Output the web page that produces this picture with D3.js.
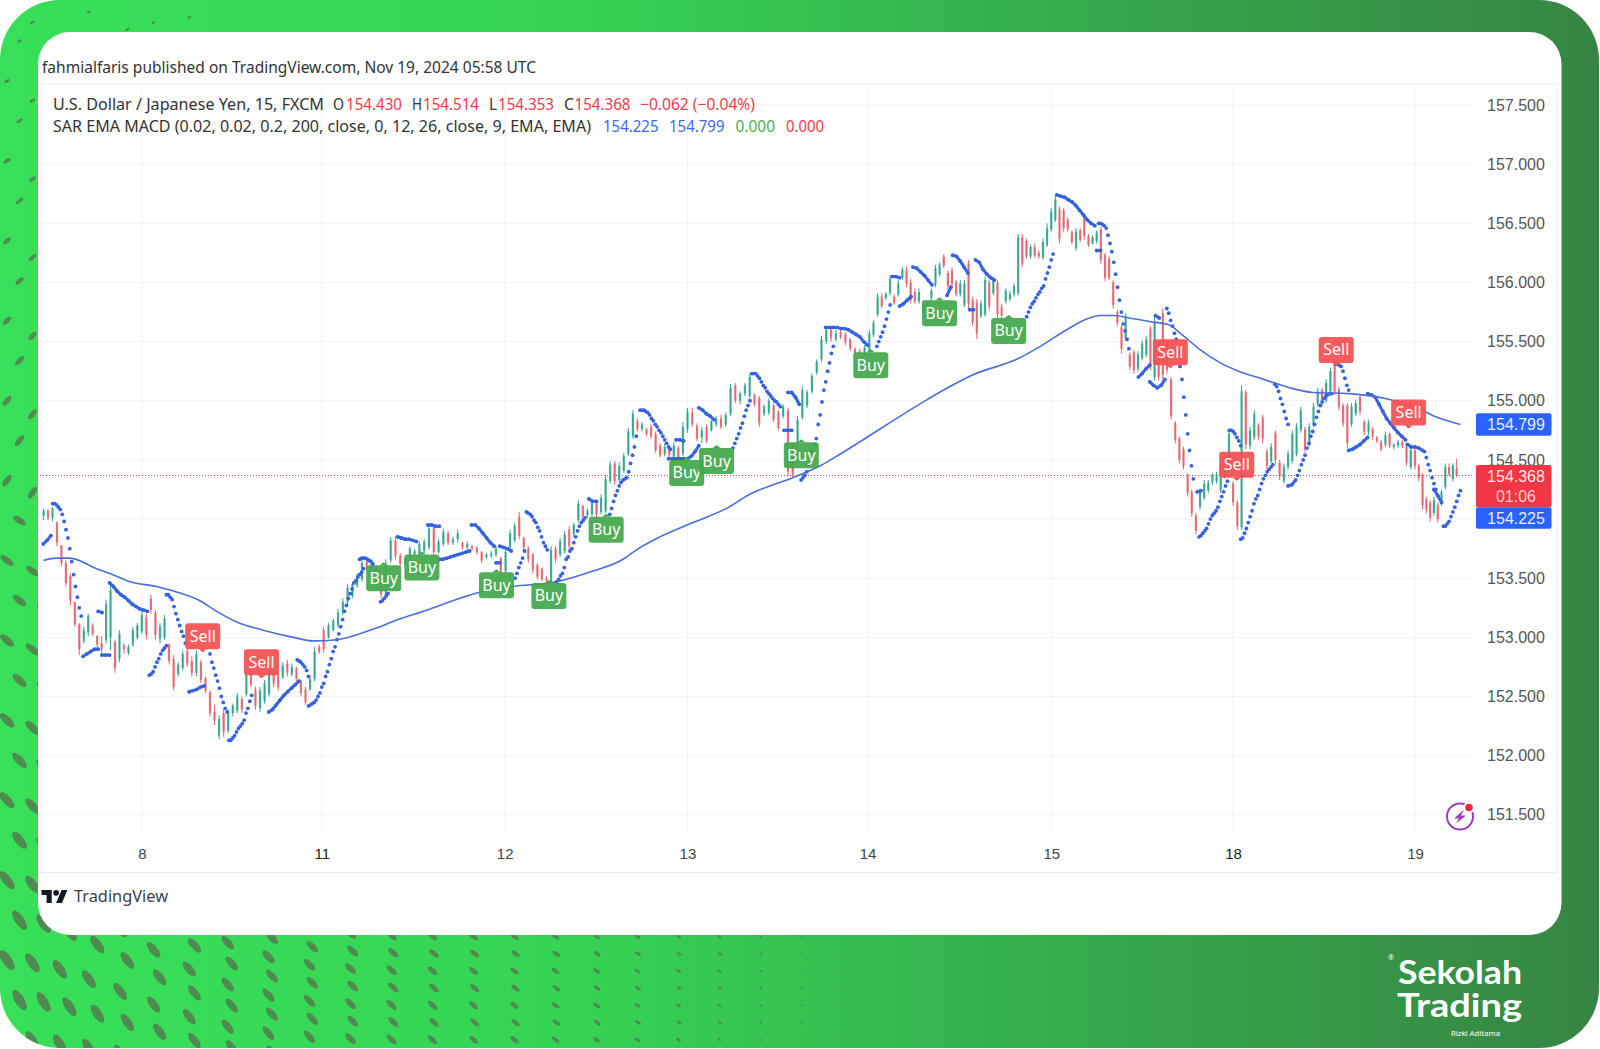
<!DOCTYPE html>
<html lang="en">

<head>
    <meta charset="utf-8">
    <title>USD/JPY 15m</title>
    <script src="https://d3js.org/d3.v7.min.js"></script>
    <style>
        body { margin: 0; background: #fff; }
        svg { display: block; }
        text { font-family: "Noto Sans", sans-serif; }
        .axis text { font-family: "Liberation Sans", sans-serif; }
        .axis .domain { display: none; }
    </style>
</head>

<body>
    <div id="chart"></div>
    <script>
        // day positions: 8 = 0, 11 = 1, 12 = 2 ... trading days only
        const dayTicks = [0, 0.989, 1.995, 3, 3.99, 5, 6, 7];
        const dayLabels = ["8", "11", "12", "13", "14", "15", "18", "19"];
        const priceTicks = [157.5, 157, 156.5, 156, 155.5, 155, 154.5, 154, 153.5, 153, 152.5, 152, 151.5];

        // candles, each row open, high, low, close
        const before8 = [
            [154.03,154.09,153.99,154.07],[154.07,154.08,153.99,154.01],[154.01,154.10,153.98,154.09],[153.97,153.98,153.77,153.80],
            [153.78,153.78,153.60,153.63],[153.63,153.65,153.43,153.46],[153.52,153.54,153.27,153.31],[153.30,153.30,153.09,153.11],
            [153.11,153.12,152.85,152.90],[152.97,153.09,152.95,153.06],[153.04,153.20,153.01,153.18],[153.10,153.12,153.01,153.03],
            [153.01,153.02,152.91,152.94],[152.95,153.01,152.86,152.90],[152.98,153.32,152.95,153.28],[153.00,153.47,152.89,153.40],
            [152.96,152.98,152.70,152.74],[152.82,153.06,152.79,153.03],[152.93,152.95,152.86,152.90],[152.87,152.94,152.85,152.92],
            [152.94,153.09,152.92,153.06],[153.00,153.12,152.98,153.10]
        ];
        const day8 = [
            [153.05,153.22,153.03,153.19],[153.17,153.20,152.98,153.02],[153.33,153.36,153.20,153.23],[153.21,153.23,152.98,153.02],
            [152.99,153.12,152.95,153.09],[153.00,153.19,152.98,153.16],[152.94,152.95,152.77,152.80],[152.82,152.85,152.55,152.58],
            [152.69,152.79,152.67,152.77],[152.74,152.89,152.72,152.86],[152.88,152.91,152.75,152.78],[152.80,152.84,152.67,152.70],
            [152.70,152.89,152.67,152.86],[152.79,152.81,152.61,152.64],[152.65,152.67,152.53,152.55],[152.54,152.55,152.33,152.36],
            [152.37,152.43,152.26,152.30],[152.17,152.34,152.14,152.31],[152.36,152.39,152.16,152.20],[152.21,152.39,152.19,152.37],
            [152.36,152.44,152.33,152.42],[152.38,152.53,152.36,152.50],[152.48,152.50,152.36,152.39],[152.52,152.72,152.50,152.70],
            [152.72,152.75,152.58,152.60],[152.56,152.58,152.39,152.42],[152.40,152.58,152.37,152.55],[152.46,152.64,152.44,152.61],
            [152.52,152.75,152.50,152.72],[152.72,152.75,152.58,152.61],[152.69,152.71,152.55,152.58],[152.66,152.79,152.65,152.76],
            [152.78,152.81,152.67,152.70],[152.69,152.78,152.67,152.75],[152.74,152.75,152.63,152.65],[152.63,152.64,152.50,152.53],
            [152.56,152.58,152.43,152.45],[152.56,152.67,152.55,152.65],[152.65,152.92,152.63,152.88],[152.92,152.94,152.86,152.88]
        ];
        const day11 = [
            [153.06,153.09,152.87,152.90],[153.00,153.12,152.99,153.10],[153.06,153.16,153.05,153.14],[153.10,153.24,153.08,153.21],
            [153.21,153.33,153.19,153.30],[153.30,153.45,153.28,153.42],[153.35,153.47,153.33,153.45],[153.44,153.54,153.42,153.52],
            [153.49,153.66,153.47,153.63],[153.64,153.67,153.56,153.58],[153.54,153.66,153.52,153.62],[153.58,153.60,153.40,153.44],
            [153.50,153.52,153.33,153.36],[153.35,153.66,153.33,153.62],[153.65,153.85,153.63,153.82],[153.82,153.85,153.66,153.69],
            [153.69,153.71,153.60,153.62],[153.62,153.68,153.60,153.66],[153.67,153.77,153.66,153.75],[153.70,153.75,153.68,153.73],
            [153.70,153.81,153.68,153.79],[153.73,153.83,153.71,153.81],[153.76,153.95,153.74,153.92],[153.92,153.94,153.68,153.72],
            [153.72,153.83,153.71,153.81],[153.79,153.92,153.77,153.89],[153.88,153.90,153.78,153.80],[153.80,153.85,153.78,153.83],
            [153.83,153.91,153.80,153.88],[153.80,153.81,153.74,153.76],[153.76,153.81,153.74,153.79],[153.77,153.78,153.73,153.75],
            [153.76,153.77,153.70,153.72],[153.72,153.73,153.63,153.65],[153.68,153.71,153.66,153.70],[153.69,153.73,153.67,153.71],
            [153.70,153.77,153.68,153.75],[153.67,153.68,153.49,153.52]
        ];
        const day12 = [
            [153.56,153.74,153.54,153.72],[153.76,153.91,153.74,153.88],[153.82,153.97,153.80,153.94],[154.02,154.06,153.83,153.86],
            [153.84,153.85,153.74,153.76],[153.75,153.77,153.63,153.66],[153.70,153.71,153.54,153.57],[153.61,153.63,153.49,153.51],
            [153.58,153.59,153.47,153.49],[153.50,153.52,153.46,153.48],[153.46,153.77,153.43,153.74],[153.75,153.77,153.63,153.66],
            [153.70,153.84,153.68,153.81],[153.73,153.90,153.71,153.87],[153.91,153.94,153.74,153.77],[153.87,153.97,153.85,153.95],
            [153.99,154.16,153.97,154.13],[154.11,154.12,153.99,154.02],[154.03,154.09,154.01,154.07],[154.04,154.16,154.02,154.14],
            [154.15,154.16,154.01,154.04],[154.06,154.21,154.04,154.18],[154.07,154.37,154.05,154.34],[154.32,154.49,154.30,154.46],
            [154.47,154.49,154.29,154.32],[154.33,154.48,154.31,154.45],[154.41,154.56,154.39,154.53],[154.55,154.77,154.53,154.74],
            [154.70,154.92,154.68,154.89],[154.83,154.85,154.74,154.76],[154.76,154.82,154.74,154.80],[154.76,154.77,154.70,154.72],
            [154.78,154.80,154.68,154.70],[154.72,154.74,154.56,154.58],[154.62,154.64,154.52,154.54],[154.55,154.64,154.53,154.61],
            [154.62,154.63,154.51,154.54],[154.53,154.65,154.50,154.62],[154.60,154.62,154.50,154.52],[154.55,154.82,154.53,154.78]
        ];
        const day13 = [
            [154.76,154.94,154.73,154.91],[154.90,154.94,154.78,154.80],[154.79,154.81,154.66,154.68],[154.69,154.78,154.64,154.75],
            [154.78,154.80,154.64,154.66],[154.75,154.84,154.74,154.82],[154.80,154.87,154.78,154.85],[154.85,154.88,154.76,154.78],
            [154.80,154.90,154.78,154.88],[154.89,155.14,154.87,155.11],[155.13,155.15,154.98,155.00],[155.00,155.08,154.97,155.06],
            [155.06,155.15,155.04,155.13],[155.04,155.23,155.02,155.20],[155.05,155.06,154.95,154.97],[155.02,155.04,154.78,154.81],
            [154.89,154.97,154.87,154.95],[154.90,155.02,154.88,155.00],[154.96,154.98,154.82,154.84],[154.90,154.92,154.75,154.77],
            [154.87,154.97,154.85,154.95],[154.92,154.94,154.36,154.40],[154.62,154.64,154.35,154.38],[154.63,154.87,154.61,154.84],
            [154.86,155.12,154.84,155.09],[154.96,155.09,154.94,155.07],[155.08,155.23,155.06,155.21],[155.24,155.35,155.22,155.33],
            [155.35,155.55,155.33,155.52],[155.50,155.62,155.48,155.60],[155.60,155.62,155.50,155.53],[155.52,155.60,155.50,155.57],
            [155.58,155.60,155.52,155.54],[155.56,155.58,155.47,155.49],[155.52,155.53,155.42,155.44],[155.44,155.45,155.37,155.39],
            [155.42,155.44,155.37,155.39],[155.38,155.47,155.37,155.45]
        ];
        const day14 = [
            [155.42,155.60,155.40,155.57],[155.56,155.68,155.54,155.66],[155.73,155.91,155.71,155.88],[155.88,155.91,155.78,155.80],
            [155.87,155.92,155.85,155.90],[155.91,156.06,155.89,156.03],[155.88,155.90,155.81,155.83],[155.90,156.02,155.88,155.99],
            [156.04,156.13,156.02,156.11],[156.10,156.13,155.96,155.99],[156.00,156.03,155.82,155.85],[155.92,155.95,155.82,155.84],
            [155.84,155.95,155.82,155.92],[155.82,155.85,155.72,155.75],[155.76,155.85,155.72,155.82],[155.87,155.95,155.85,155.93],
            [155.98,156.15,155.96,156.12],[156.07,156.17,156.05,156.15],[156.22,156.24,156.12,156.14],[156.08,156.10,155.94,155.97],
            [156.10,156.13,155.96,155.99],[156.00,156.02,155.88,155.90],[155.90,156.02,155.88,155.99],[155.81,156.02,155.79,155.99],
            [156.16,156.19,155.78,155.82],[155.85,155.88,155.63,155.66],[155.83,155.86,155.52,155.57],[155.72,155.85,155.70,155.82],
            [155.73,156.05,155.71,156.02],[156.00,156.02,155.77,155.80],[155.91,156.05,155.89,156.02],[156.00,156.02,155.70,155.73],
            [155.79,155.82,155.70,155.72],[155.84,155.95,155.82,155.93],[155.86,155.93,155.84,155.90],[155.90,155.99,155.88,155.97],
            [155.91,156.41,155.89,156.38],[156.38,156.41,156.13,156.16],[156.35,156.37,156.20,156.22],[156.22,156.32,156.20,156.30],
            [156.30,156.33,156.21,156.23],[156.25,156.27,156.20,156.22],[156.21,156.37,156.19,156.34],[156.32,156.50,156.30,156.46]
        ];
        const day15 = [
            [156.45,156.63,156.43,156.60],[156.53,156.74,156.51,156.70],[156.62,156.64,156.33,156.37],[156.61,156.63,156.43,156.46],
            [156.53,156.55,156.43,156.45],[156.42,156.44,156.32,156.34],[156.29,156.46,156.27,156.43],[156.44,156.46,156.34,156.36],
            [156.55,156.57,156.36,156.39],[156.39,156.41,156.30,156.32],[156.33,156.40,156.32,156.38],[156.35,156.44,156.33,156.42],
            [156.45,156.47,156.16,156.19],[156.23,156.25,156.01,156.04],[156.20,156.22,156.02,156.04],[156.00,156.02,155.78,155.81],
            [155.75,155.77,155.63,155.66],[155.62,155.64,155.40,155.44],[155.53,155.74,155.51,155.71],[155.39,155.41,155.26,155.29],
            [155.41,155.43,155.23,155.26],[155.27,155.42,155.25,155.39],[155.36,155.51,155.34,155.48],[155.39,155.55,155.37,155.52],
            [155.61,155.63,155.26,155.30],[155.20,155.72,155.17,155.66],[155.48,155.50,155.17,155.20],[155.74,155.78,155.17,155.22],
            [155.49,155.51,155.23,155.26],[155.18,155.20,154.84,154.87],[154.81,154.83,154.64,154.67],[154.68,154.70,154.47,154.50],
            [154.59,154.61,154.42,154.45],[154.37,154.39,154.19,154.22],[154.23,154.25,154.02,154.05],[154.03,154.05,153.87,153.90],
            [154.10,154.25,154.08,154.23],[154.18,154.33,154.16,154.30],[154.24,154.33,154.22,154.31],[154.31,154.39,154.29,154.37],
            [154.32,154.40,154.30,154.38],[154.24,154.47,154.22,154.44],[154.36,154.44,154.34,154.42],[154.44,154.75,154.42,154.72]
        ];
        const day18 = [
            [154.30,154.32,154.11,154.14],[154.14,154.16,153.91,153.94],[153.93,155.13,153.91,155.08],[155.07,155.09,154.59,154.63],
            [154.62,154.78,154.59,154.75],[154.69,154.92,154.67,154.89],[154.79,154.81,154.67,154.70],[154.86,154.88,154.64,154.68],
            [154.57,154.59,154.42,154.45],[154.49,154.64,154.47,154.61],[154.73,154.75,154.47,154.50],[154.48,154.50,154.33,154.36],
            [154.32,154.47,154.30,154.44],[154.44,154.58,154.42,154.55],[154.49,154.75,154.47,154.72],[154.55,154.81,154.53,154.78],
            [154.75,154.95,154.73,154.92],[154.76,154.78,154.56,154.59],[154.63,154.81,154.61,154.78],[154.80,154.98,154.78,154.95],
            [154.97,155.11,154.95,155.08],[155.09,155.11,154.95,154.98],[155.00,155.18,154.98,155.15],[155.08,155.28,155.06,155.25],
            [155.30,155.32,155.05,155.08],[155.10,155.12,154.92,154.95],[154.96,154.98,154.78,154.81],[154.96,154.98,154.60,154.64],
            [154.80,154.98,154.78,154.95],[154.89,155.01,154.87,154.98],[155.03,155.05,154.88,154.91],[154.82,154.84,154.71,154.74],
            [154.74,154.84,154.71,154.81],[154.76,154.78,154.67,154.70],[154.69,154.70,154.64,154.66],[154.65,154.67,154.57,154.59],
            [154.63,154.74,154.61,154.71],[154.72,154.73,154.60,154.62],[154.61,154.64,154.59,154.63],[154.62,154.67,154.60,154.65],
            [154.65,154.67,154.60,154.62],[154.61,154.63,154.45,154.48],[154.44,154.61,154.42,154.58]
        ];
        const day19 = [
            [154.58,154.60,154.42,154.45],[154.45,154.47,154.32,154.35],[154.37,154.39,154.08,154.12],[154.17,154.19,154.05,154.08],
            [154.14,154.16,153.98,154.01],[154.05,154.19,154.03,154.16],[154.12,154.14,153.97,154.00],[154.13,154.25,154.11,154.23],
            [154.27,154.47,154.25,154.44],[154.44,154.47,154.36,154.38],[154.34,154.47,154.32,154.45],[154.43,154.51,154.35,154.37]
        ];
        const dayStarts = [-0.54, 0, 1, 2, 3, 4, 5, 6, 7];
        const daySpans = [0.54, 1, 1, 1, 1, 1, 1, 1, 0.25];

        // parabolic SAR runs: first 15 minute bar counted from day 8, bars between dots, prices
        const sarStart = [-52,-47,-31,-23,-21,-17,4,13,25,36,46,67,82,88,115,126,135,151,157,174,187,189,197,203,219,236,247,263,278,282,294,312,322,339,341,348,361,388,396,400,407,425,428,437,440,467,483,504,505,526,532,535,541,557,558,574,580,598,605,610,630,637,647,668,677,682,687];
        const sarStep = [2,1,2,2,2,2,1,1,2,1,1,2,1,1,1,1,2,2,2,2,2,2,1,1,1,2,1,1,2,2,2,1,1,2,2,1,2,1,2,2,2,2,2,2,2,1,2,2,1,2,2,2,1,2,1,1,1,1,2,1,1,2,2,2,1,2,1];
        const sarPrices = [
            [153.79,153.82,153.86],
            [154.13,154.13,154.12,154.10,154.08,154.04,153.98,153.91,153.84,153.75,153.64,153.53,153.43,153.34,153.25,153.18],
            [152.84,152.86,152.88,152.90,152.90],
            [153.22,153.21],
            [152.85,152.85,152.85],
            [153.46,153.43,153.39,153.36,153.34,153.31,153.28,153.26,153.24,153.23,153.22],
            [152.68,152.69,152.71,152.75,152.79,152.82,152.86,152.89,152.91,152.93],
            [153.36,153.36,153.34,153.32,153.26,153.20,153.15,153.10,153.05,153.01,152.95],
            [152.54,152.55,152.56,152.58,152.59],
            [152.86,152.79,152.74,152.68,152.63,152.57,152.50,152.45,152.40,152.37],
            [152.13,152.13,152.15,152.17,152.20,152.23,152.25,152.27,152.30,152.36,152.40,152.46,152.51],
            [152.37,152.39,152.43,152.47,152.51,152.54,152.57,152.60,152.63],
            [152.81,152.80,152.79,152.77,152.75,152.72,152.67],
            [152.42,152.43,152.44,152.45,152.47,152.50,152.53,152.58,152.61,152.67,152.71,152.77,152.82,152.88,152.92,152.98,153.03,153.09,153.15,153.22,153.27,153.33,153.37,153.41,153.46,153.48,153.51,153.53,153.55,153.58],
            [153.66,153.67,153.67,153.67,153.66,153.65,153.64,153.62],
            [153.30,153.31,153.33,153.35,153.37],
            [153.85,153.84,153.83,153.83,153.82,153.81],
            [153.95,153.95,153.94,153.94],
            [153.66,153.66,153.67,153.68,153.69,153.70,153.71,153.72,153.73],
            [153.95,153.95,153.92,153.88,153.84,153.80,153.77],
            [153.63,153.63],
            [153.77,153.76,153.75,153.73],
            [153.50,153.54,153.59,153.63,153.67,153.73],
            [154.06,154.05,154.04,154.02,153.99,153.97,153.93,153.90,153.85,153.80,153.77,153.74],
            [153.47,153.49,153.52,153.54,153.59,153.66,153.68,153.73,153.75,153.80,153.85,153.90,153.94,153.97,153.99,154.01],
            [154.17,154.15,154.15],
            [154.04,154.09,154.15,154.20,154.24,154.28,154.31,154.33,154.34,154.35,154.40,154.47,154.54,154.61,154.70],
            [154.92,154.92,154.92,154.91,154.90,154.88,154.85,154.83,154.80,154.78,154.75,154.73,154.70,154.67,154.64,154.61,154.59],
            [154.51,154.51,154.51,154.51,154.51,154.51,154.53,154.57,154.62],
            [154.67,154.67,154.66],
            [154.94,154.92,154.89,154.87,154.84],
            [154.60,154.64,154.68,154.72,154.77,154.81,154.87,154.92,154.96,155.00],
            [155.23,155.23,155.23,155.21,155.19,155.16,155.13,155.11,155.08,155.06,155.04,155.02,155.00,154.99,154.97,154.95],
            [154.75,154.75,154.75],
            [155.07,155.07,155.03,154.97],
            [154.33,154.35,154.37,154.40,154.46,154.52,154.57,154.63,154.68,154.80,154.88,154.99,155.09,155.16,155.25,155.32,155.40,155.46],
            [155.62,155.62,155.62,155.62,155.61,155.61,155.60,155.58,155.56,155.54,155.50,155.47],
            [155.46,155.50,155.54,155.58,155.63,155.69,155.75,155.81],
            [156.05,156.05,156.04],
            [155.80,155.82,155.85,155.88],
            [156.13,156.12,156.09,156.06,156.02,155.98],
            [155.89,155.96],
            [156.23,156.22,156.18,156.13,156.08],
            [155.77,155.77],
            [156.19,156.17,156.11,156.07,156.04,156.02],
            [155.71,155.75,155.79,155.82,155.84,155.87,155.90,155.92,155.95,155.97,156.03,156.08,156.13,156.19,156.24],
            [156.74,156.73,156.72,156.70,156.68,156.65,156.61,156.57,156.53,156.50,156.48],
            [156.27,156.27],
            [156.50,156.50,156.49,156.48,156.46,156.40,156.33,156.26,156.17,156.07,155.96,155.85,155.75,155.65,155.59,155.52,155.44],
            [155.20,155.23,155.27,155.30],
            [155.16,155.13,155.11,155.13,155.18],
            [155.72,155.70],
            [155.78,155.74,155.68,155.63,155.57,155.52,155.40,155.29,155.18,155.03,154.88,154.72,154.58,154.45,154.34],
            [154.23,154.24],
            [153.85,153.86,153.88,153.90,153.92,153.96,154.00,154.03,154.05,154.07,154.10,154.15,154.19,154.23,154.28,154.32],
            [154.75,154.75,154.74,154.72,154.69,154.66,154.62],
            [153.83,153.84,153.88,153.92,153.97,154.02,154.07,154.13,154.17,154.20,154.25,154.30,154.34,154.37,154.40,154.42,154.44,154.46],
            [155.14,155.12,155.08,155.02,154.97,154.91,154.85,154.80],
            [154.28,154.29,154.33],
            [154.37,154.41,154.46,154.50,154.54,154.60,154.64,154.70,154.74,154.80,154.86,154.91,154.96,154.99,155.02,155.04,155.05,155.06,155.06],
            [155.31,155.31,155.30,155.29,155.25,155.19,155.13,155.09],
            [154.58,154.59,154.61,154.63,154.66,154.69],
            [155.06,155.05,155.03,154.97,154.91,154.85,154.81,154.77,154.73,154.70,154.67],
            [154.63,154.61,154.61,154.60,154.58],
            [154.57,154.52,154.46,154.41,154.35,154.30,154.25],
            [154.25,154.20,154.14],
            [153.94,153.94,153.96,153.98,154.02,154.06,154.10,154.15,154.20,154.24]
        ];

        // 200 EMA read at irregular days
        const emaDay = [-0.541,-0.468,-0.395,-0.248,-0.175,-0.065,0.082,0.155,0.32,0.412,0.522,0.668,0.833,0.943,1.071,1.254,1.41,1.566,1.749,1.876,2.04,2.28,2.48,2.646,2.72,2.85,3.03,3.215,3.343,3.49,3.58,3.73,3.84,4.318,4.443,4.57,4.81,4.94,5.085,5.195,5.268,5.34,5.43,5.54,5.65,5.71,5.82,5.93,6.03,6.17,6.31,6.44,6.64,6.86,7.01,7.12,7.25];
        const emaPrice = [153.65,153.67,153.67,153.58,153.54,153.47,153.43,153.40,153.31,153.22,153.13,153.06,153.00,152.97,152.98,153.06,153.15,153.23,153.33,153.39,153.43,153.47,153.56,153.66,153.74,153.85,153.97,154.09,154.21,154.30,154.35,154.45,154.55,155.01,155.12,155.22,155.35,155.46,155.60,155.69,155.72,155.72,155.70,155.67,155.64,155.57,155.43,155.32,155.25,155.18,155.11,155.07,155.06,155.01,154.94,154.86,154.80];

        const signalDay = [0.335,0.658,1.33,1.54,1.95,2.238,2.553,2.996,3.16,3.626,4.008,4.386,4.766,5.655,6.02,6.567,6.965];
        const signalPrice = [153.01,152.79,153.50,153.59,153.44,153.35,153.91,154.39,154.49,154.54,155.30,155.74,155.59,155.41,154.46,155.43,154.90];
        const signalText = ["Sell","Sell","Buy","Buy","Buy","Buy","Buy","Buy","Buy","Buy","Buy","Buy","Buy","Sell","Sell","Sell","Sell"];

        const lastPrice = 154.368;
        const emaLast = 154.799;
        const sarLast = 154.225;

        const width = 1600, height = 1049;
        const plotLeft = 40, plotRight = 1473, plotTop = 84, plotBottom = 833;

        const x = d3.scaleLinear().domain([0, 7]).range([141.8, 1415]);
        const y = d3.scaleLinear().domain([157.5, 151.5]).range([105, 814.8]);

        const svg = d3.select("#chart").append("svg")
            .attr("width", width)
            .attr("height", height);

        const defs = svg.append("defs");
        const grad = defs.append("linearGradient").attr("id", "bg");
        grad.append("stop").attr("offset", "0%").attr("stop-color", "#37e058");
        grad.append("stop").attr("offset", "35%").attr("stop-color", "#36d455");
        grad.append("stop").attr("offset", "70%").attr("stop-color", "#35a84b");
        grad.append("stop").attr("offset", "100%").attr("stop-color", "#378543");
        defs.append("clipPath").attr("id", "outer").append("rect")
            .attr("width", 1599).attr("height", 1048).attr("rx", 60);

        // green frame with its warped dot pattern, only decoration so it is laid out in a loop
        const frame = svg.append("g").attr("clip-path", "url(#outer)");
        frame.append("rect").attr("width", 1599).attr("height", 1048).attr("fill", "url(#bg)");
        for (var n = 0; n < 56; n++) {
            var px = 7;
            while (px < 850) {
                var squeeze = 0.43 + 0.57 * Math.exp(-(px / 170) * (px / 170));
                var py = 1100 - (n + 1.5) * 40 * squeeze;
                var dotX = px + (n % 2) * 13 * Math.exp(-px / 200);
                var s = (1 - px / 850) * Math.min(1, 0.16 + 0.84 * Math.max(0, py) / 950);
                var tilt = (py < 520 ? 65 - py * 0.06 : -55 + (py - 520) * 0.05) - px * 0.04;
                var visible = py > 4 && py < 1060 && (py > 60 || px < 200) && (py > 930 || px < 200);
                if (visible) {
                    frame.append("ellipse")
                        .attr("rx", 4.4 * s + 0.4).attr("ry", 11 * s + 0.6)
                        .attr("fill", "#4f8a50")
                        .attr("transform", "translate(" + dotX + "," + py + ") rotate(" + tilt + ")");
                }
                px += Math.min(41, 25 + 0.07 * px);
            }
        }

        svg.append("rect").attr("x", 38).attr("y", 32)
            .attr("width", 1523.5).attr("height", 903).attr("rx", 32).attr("fill", "#fff");

        svg.append("text").attr("x", 42).attr("y", 73)
            .attr("font-size", 16).attr("fill", "#333").attr("textLength", 494).attr("lengthAdjust", "spacingAndGlyphs")
            .text("fahmialfaris published on TradingView.com, Nov 19, 2024 05:58 UTC");

        // chart frame
        svg.append("rect").attr("x", 41).attr("y", plotTop)
            .attr("width", 1516).attr("height", 872.5 - plotTop)
            .attr("fill", "none").attr("stroke", "#eceef3");

        // grid
        svg.append("g").selectAll("line").data(priceTicks).join("line")
            .attr("x1", plotLeft).attr("x2", plotRight)
            .attr("y1", d => y(d)).attr("y2", d => y(d))
            .attr("stroke", "#f1f3f7");
        svg.append("g").selectAll("line").data(dayTicks).join("line")
            .attr("x1", d => x(d)).attr("x2", d => x(d))
            .attr("y1", plotTop).attr("y2", plotBottom)
            .attr("stroke", "#f1f3f7");

        // axes
        const yAxis = d3.axisRight(y).tickValues(priceTicks).tickFormat(d3.format(".3f")).tickSize(0);
        const gy = svg.append("g").attr("class", "axis").attr("transform", "translate(1487,0)").call(yAxis);
        gy.selectAll("text").attr("font-size", 16).attr("fill", "#555").attr("x", 0);

        const xAxis = d3.axisBottom(x).tickValues(dayTicks).tickFormat((d, i) => dayLabels[i]).tickSize(0);
        const gx = svg.append("g").attr("class", "axis").attr("transform", "translate(0,845)").call(xAxis);
        gx.selectAll("text").attr("font-size", 15).attr("fill", (d, i) => (dayLabels[i] == "11" || dayLabels[i] == "18") ? "#222" : "#444");

        // last price line
        svg.append("line").attr("x1", plotLeft).attr("x2", plotRight)
            .attr("y1", y(lastPrice)).attr("y2", y(lastPrice))
            .attr("stroke", "#d9444f").attr("stroke-dasharray", "1 2");

        // candles
        const candleDays = [before8, day8, day11, day12, day13, day14, day15, day18, day19];
        const candles = [];
        candleDays.forEach(function(rows, k) {
            rows.forEach(function(r, i) {
                candles.push({ t: dayStarts[k] + i * daySpans[k] / rows.length, o: r[0], h: r[1], l: r[2], c: r[3] });
            });
        });
        const upColor = "#2fa58c", downColor = "#e8616b";
        const bars = svg.append("g").selectAll("g").data(candles).join("g");
        bars.append("line")
            .attr("x1", d => x(d.t)).attr("x2", d => x(d.t))
            .attr("y1", d => y(d.h)).attr("y2", d => y(d.l))
            .attr("stroke", d => d.c >= d.o ? upColor : downColor);
        bars.append("rect")
            .attr("x", d => x(d.t) - 1.1).attr("width", 2.2)
            .attr("y", d => y(Math.max(d.o, d.c)))
            .attr("height", d => Math.max(1, Math.abs(y(d.o) - y(d.c))))
            .attr("fill", d => d.c >= d.o ? upColor : downColor)
            .attr("fill-opacity", 0.85);

        // SAR dots, the flat runs merge into a thick stroke on the chart
        const sarColor = "#3563e0";
        const sarDots = [];
        const sarLine = d3.line().x(d => x(d.t)).y(d => y(d.p));
        sarPrices.forEach(function(vals, k) {
            const run = vals.map((p, i) => ({ t: (sarStart[k] + i * sarStep[k]) / 96, p: p }));
            run.forEach(d => sarDots.push(d));
            if (sarStep[k] == 2) {
                svg.append("path").attr("d", sarLine(run)).attr("fill", "none")
                    .attr("stroke", sarColor).attr("stroke-width", 3).attr("stroke-linecap", "round");
            }
        });
        svg.append("g").selectAll("circle").data(sarDots).join("circle")
            .attr("cx", d => x(d.t)).attr("cy", d => y(d.p)).attr("r", 1.9)
            .attr("fill", sarColor);

        // EMA
        const line = d3.line().x((d, i) => x(emaDay[i])).y(d => y(d)).curve(d3.curveMonotoneX);
        svg.append("path").datum(emaPrice).attr("d", line)
            .attr("fill", "none").attr("stroke", "#4a6fd8").attr("stroke-width", 1.6);

        // buy and sell tags
        const tags = svg.append("g").selectAll("g").data(signalDay).join("g")
            .attr("transform", (d, i) => "translate(" + x(d) + "," + y(signalPrice[i]) + ")");
        tags.append("rect").attr("x", -17.5).attr("y", -13).attr("width", 35).attr("height", 26).attr("rx", 3)
            .attr("fill", (d, i) => signalText[i] == "Buy" ? "#43a84b" : "#f54f52").attr("fill-opacity", 0.93);
        tags.append("path")
            .attr("d", (d, i) => signalText[i] == "Buy" ? "M-4 -13L0 -16L4 -13Z" : "M-4 13L0 16L4 13Z")
            .attr("fill", (d, i) => signalText[i] == "Buy" ? "#43a84b" : "#f54f52");
        tags.append("text").attr("text-anchor", "middle").attr("y", 5.5)
            .attr("font-size", 16).attr("fill", "#fff")
            .text((d, i) => signalText[i]);

        // price badges
        const badgeLeft = 1476, badgeWidth = 75.5;
        function badge(top, h, color, lines) {
            svg.append("rect").attr("x", badgeLeft).attr("y", top).attr("width", badgeWidth).attr("height", h).attr("rx", 2).attr("fill", color);
            lines.forEach(function(t, i) {
                svg.append("text").attr("x", 1516).attr("y", top + 16.5 + i * 20).attr("text-anchor", "middle")
                    .style("font-family", "Liberation Sans")
                    .attr("font-size", 16).attr("fill", "#fff").attr("fill-opacity", i ? 0.75 : 0.92).text(t);
            });
        }
        badge(413.3, 22.4, "#2962ff", [d3.format(".3f")(emaLast)]);
        badge(465, 42.3, "#f23645", [d3.format(".3f")(lastPrice), "01:06"]);
        badge(507.3, 21.4, "#2962ff", [d3.format(".3f")(sarLast)]);

        // legend
        function legend(txt, left, w, ly, color) {
            svg.append("text").attr("x", left).attr("y", ly).attr("font-size", 16).attr("fill", color)
                .attr("textLength", w).attr("lengthAdjust", "spacingAndGlyphs").text(txt);
        }
        const red = "#ef3b4a", blue = "#3b68e8";
        legend("U.S. Dollar / Japanese Yen, 15, FXCM", 53, 271, 110, "#333");
        legend("O", 333, 11, 110, "#333");
        legend("154.430", 346, 56, 110, red);
        legend("H", 412, 10, 110, "#333");
        legend("154.514", 423, 56, 110, red);
        legend("L", 489, 8, 110, "#333");
        legend("154.353", 498, 56, 110, red);
        legend("C", 564, 10, 110, "#333");
        legend("154.368", 574.5, 56, 110, red);
        legend("\u22120.062 (\u22120.04%)", 640, 115, 110, red);
        legend("SAR EMA MACD (0.02, 0.02, 0.2, 200, close, 0, 12, 26, close, 9, EMA, EMA)", 53, 538, 132, "#333");
        legend("154.225", 603, 55.5, 132, blue);
        legend("154.799", 669, 55.5, 132, blue);
        legend("0.000", 735.5, 39.5, 132, "#4caf50");
        legend("0.000", 786, 38, 132, red);

        // TradingView mark
        const tv = svg.append("g").attr("transform", "translate(41.5,887) scale(0.73)").attr("fill", "#131722");
        tv.append("path").attr("d", "M14 22H7V11H0V4h14v18zM28 22h-8l7.5-18h8L28 22z");
        tv.append("circle").attr("cx", 20).attr("cy", 8).attr("r", 4);
        svg.append("text").attr("x", 74).attr("y", 902).attr("font-size", 17).attr("fill", "#3c4043")
            .attr("textLength", 94).attr("lengthAdjust", "spacingAndGlyphs").text("TradingView");

        // lightning badge
        const bolt = svg.append("g").attr("transform", "translate(1460,816.5)");
        bolt.append("circle").attr("r", 13).attr("fill", "none").attr("stroke", "#9c3fb8").attr("stroke-width", 2);
        bolt.append("path").attr("d", "M4 -7L-6 2L-1 2L-4 7L6 -1L1 -1Z").attr("fill", "#9c3fb8");
        bolt.append("circle").attr("cx", 9).attr("cy", -9).attr("r", 5.5).attr("fill", "#fff");
        bolt.append("circle").attr("cx", 9).attr("cy", -9).attr("r", 3.8).attr("fill", "#ee2a3a");

        // brand
        svg.append("text").attr("x", 1398).attr("y", 984).attr("font-size", 32).attr("font-weight", 700)
            .style("font-family", "Lato").attr("fill", "#fff")
            .attr("textLength", 124).attr("lengthAdjust", "spacingAndGlyphs").text("Sekolah");
        svg.append("text").attr("x", 1397).attr("y", 1017).attr("font-size", 32).attr("font-weight", 700)
            .style("font-family", "Lato").attr("fill", "#fff")
            .attr("textLength", 125).attr("lengthAdjust", "spacingAndGlyphs").text("Trading");
        svg.append("text").attr("x", 1451).attr("y", 1036).attr("font-size", 7).attr("fill", "#fff")
            .attr("textLength", 49).attr("lengthAdjust", "spacingAndGlyphs").text("Rizki Aditama");
        svg.append("text").attr("x", 1388).attr("y", 960).attr("font-size", 7).attr("fill", "#fff").text("\u00ae");
    </script>
</body>

</html>
